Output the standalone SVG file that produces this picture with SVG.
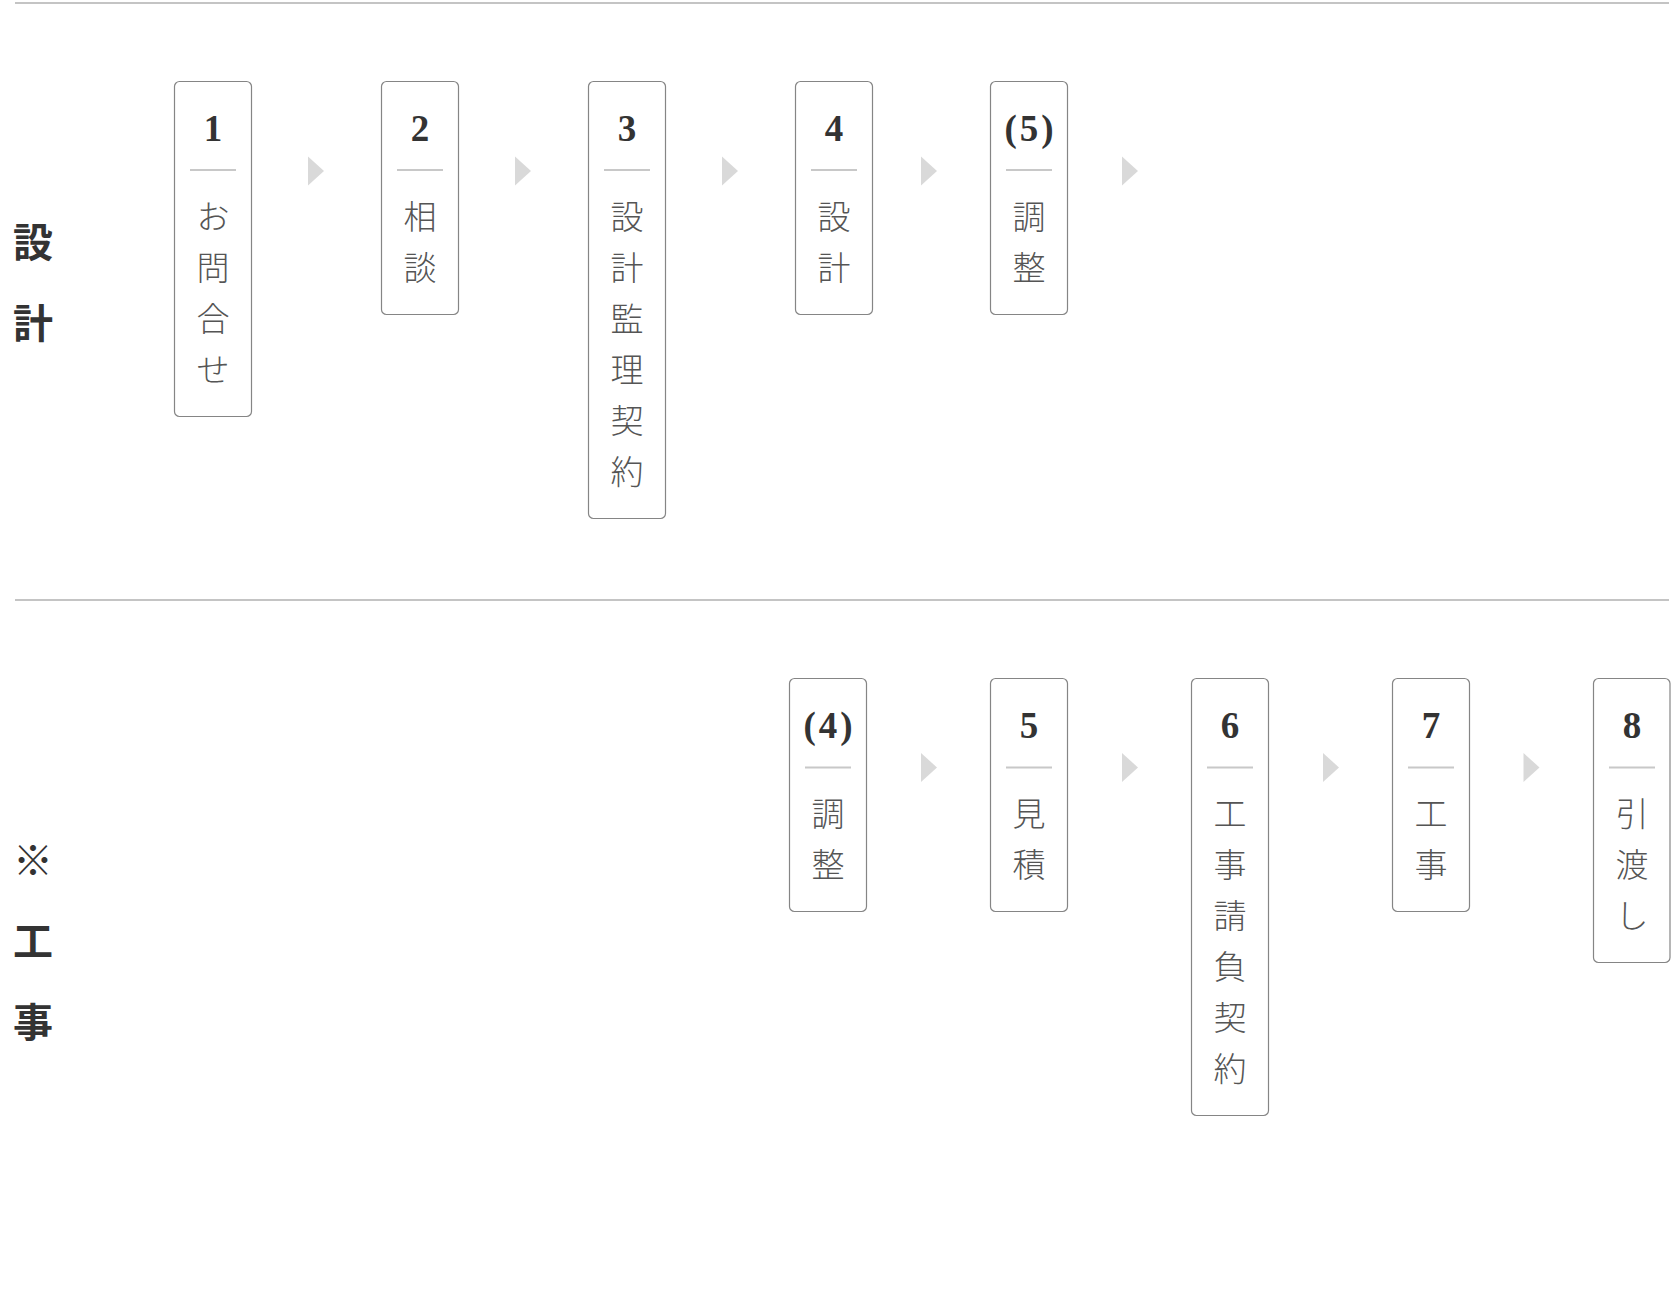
<svg xmlns="http://www.w3.org/2000/svg" width="1671" height="1313" viewBox="0 0 1671 1313">
<style>
.rule{fill:#c4c4c4}
.box{fill:#fff;stroke:#858585;stroke-width:1.2}
.div{stroke:#c8c8c8;stroke-width:2}
.arr{fill:#d9d9d9}
.num{font-family:"Liberation Serif","DejaVu Serif",serif;font-weight:bold;font-size:37px;fill:#333;text-anchor:middle}
.par{letter-spacing:3px}
.lbl{font-family:"Noto Sans CJK JP","Noto Sans CJK SC",sans-serif;font-weight:300;font-size:33px;fill:#555;text-anchor:middle}
.sec{font-family:"Noto Sans CJK JP","Noto Sans CJK SC",sans-serif;font-weight:bold;font-size:40px;fill:#333;text-anchor:middle}
</style>
<rect width="1671" height="1313" fill="#fff"/>
<rect class="rule" x="15" y="2" width="1654" height="2"/>
<rect class="rule" x="15" y="599" width="1654" height="2"/>

<g id="section-design">
<text class="sec" x="33" y="257">設</text>
<text class="sec" x="33" y="338">計</text>
</g>
<g id="section-construction">
<text class="sec" x="33" y="875">※</text>
<text class="sec" x="33" y="956">工</text>
<text class="sec" x="33" y="1037">事</text>
</g>

<g id="connectors">
<polygon class="arr" points="308,156.5 324,171 308,185.5"/>
<polygon class="arr" points="515,156.5 531,171 515,185.5"/>
<polygon class="arr" points="722,156.5 738,171 722,185.5"/>
<polygon class="arr" points="921,156.5 937,171 921,185.5"/>
<polygon class="arr" points="1122,156.5 1138,171 1122,185.5"/>
<polygon class="arr" points="921,753 937,767.5 921,782"/>
<polygon class="arr" points="1122,753 1138,767.5 1122,782"/>
<polygon class="arr" points="1323,753 1339,767.5 1323,782"/>
<polygon class="arr" points="1523.5,753 1539.5,767.5 1523.5,782"/>
</g>

<g id="step1">
<rect class="box" x="174.5" y="81.5" width="77" height="335" rx="5"/>
<text class="num" x="213" y="140.5">1</text>
<line class="div" x1="190" y1="170" x2="236" y2="170"/>
<text class="lbl" x="213" y="229"><tspan x="213">お</tspan><tspan x="213" dy="51">問</tspan><tspan x="213" dy="51">合</tspan><tspan x="213" dy="51">せ</tspan></text>
</g>
<g id="step2">
<rect class="box" x="381.5" y="81.5" width="77" height="233" rx="5"/>
<text class="num" x="420" y="140.5">2</text>
<line class="div" x1="397" y1="170" x2="443" y2="170"/>
<text class="lbl" x="420" y="229"><tspan x="420">相</tspan><tspan x="420" dy="51">談</tspan></text>
</g>
<g id="step3">
<rect class="box" x="588.5" y="81.5" width="77" height="437" rx="5"/>
<text class="num" x="627" y="140.5">3</text>
<line class="div" x1="604" y1="170" x2="650" y2="170"/>
<text class="lbl" x="627" y="229"><tspan x="627">設</tspan><tspan x="627" dy="51">計</tspan><tspan x="627" dy="51">監</tspan><tspan x="627" dy="51">理</tspan><tspan x="627" dy="51">契</tspan><tspan x="627" dy="51">約</tspan></text>
</g>
<g id="step4">
<rect class="box" x="795.5" y="81.5" width="77" height="233" rx="5"/>
<text class="num" x="834" y="140.5">4</text>
<line class="div" x1="811" y1="170" x2="857" y2="170"/>
<text class="lbl" x="834" y="229"><tspan x="834">設</tspan><tspan x="834" dy="51">計</tspan></text>
</g>
<g id="step5-design">
<rect class="box" x="990.5" y="81.5" width="77" height="233" rx="5"/>
<text class="num par" x="1030.5" y="140.5">(5)</text>
<line class="div" x1="1006" y1="170" x2="1052" y2="170"/>
<text class="lbl" x="1029" y="229"><tspan x="1029">調</tspan><tspan x="1029" dy="51">整</tspan></text>
</g>

<g id="step4-construction">
<rect class="box" x="789.5" y="678.5" width="77" height="233" rx="5"/>
<text class="num par" x="829.5" y="737.5">(4)</text>
<line class="div" x1="805" y1="767.5" x2="851" y2="767.5"/>
<text class="lbl" x="828" y="826"><tspan x="828">調</tspan><tspan x="828" dy="51">整</tspan></text>
</g>
<g id="step5">
<rect class="box" x="990.5" y="678.5" width="77" height="233" rx="5"/>
<text class="num" x="1029" y="737.5">5</text>
<line class="div" x1="1006" y1="767.5" x2="1052" y2="767.5"/>
<text class="lbl" x="1029" y="826"><tspan x="1029">見</tspan><tspan x="1029" dy="51">積</tspan></text>
</g>
<g id="step6">
<rect class="box" x="1191.5" y="678.5" width="77" height="437" rx="5"/>
<text class="num" x="1230" y="737.5">6</text>
<line class="div" x1="1207" y1="767.5" x2="1253" y2="767.5"/>
<text class="lbl" x="1230" y="826"><tspan x="1230">工</tspan><tspan x="1230" dy="51">事</tspan><tspan x="1230" dy="51">請</tspan><tspan x="1230" dy="51">負</tspan><tspan x="1230" dy="51">契</tspan><tspan x="1230" dy="51">約</tspan></text>
</g>
<g id="step7">
<rect class="box" x="1392.5" y="678.5" width="77" height="233" rx="5"/>
<text class="num" x="1431" y="737.5">7</text>
<line class="div" x1="1408" y1="767.5" x2="1454" y2="767.5"/>
<text class="lbl" x="1431" y="826"><tspan x="1431">工</tspan><tspan x="1431" dy="51">事</tspan></text>
</g>
<g id="step8">
<rect class="box" x="1593.5" y="678.5" width="76.5" height="284" rx="5"/>
<text class="num" x="1632" y="737.5">8</text>
<line class="div" x1="1609" y1="767.5" x2="1655" y2="767.5"/>
<text class="lbl" x="1632" y="826"><tspan x="1632">引</tspan><tspan x="1632" dy="51">渡</tspan><tspan x="1632" dy="51">し</tspan></text>
</g>
</svg>
